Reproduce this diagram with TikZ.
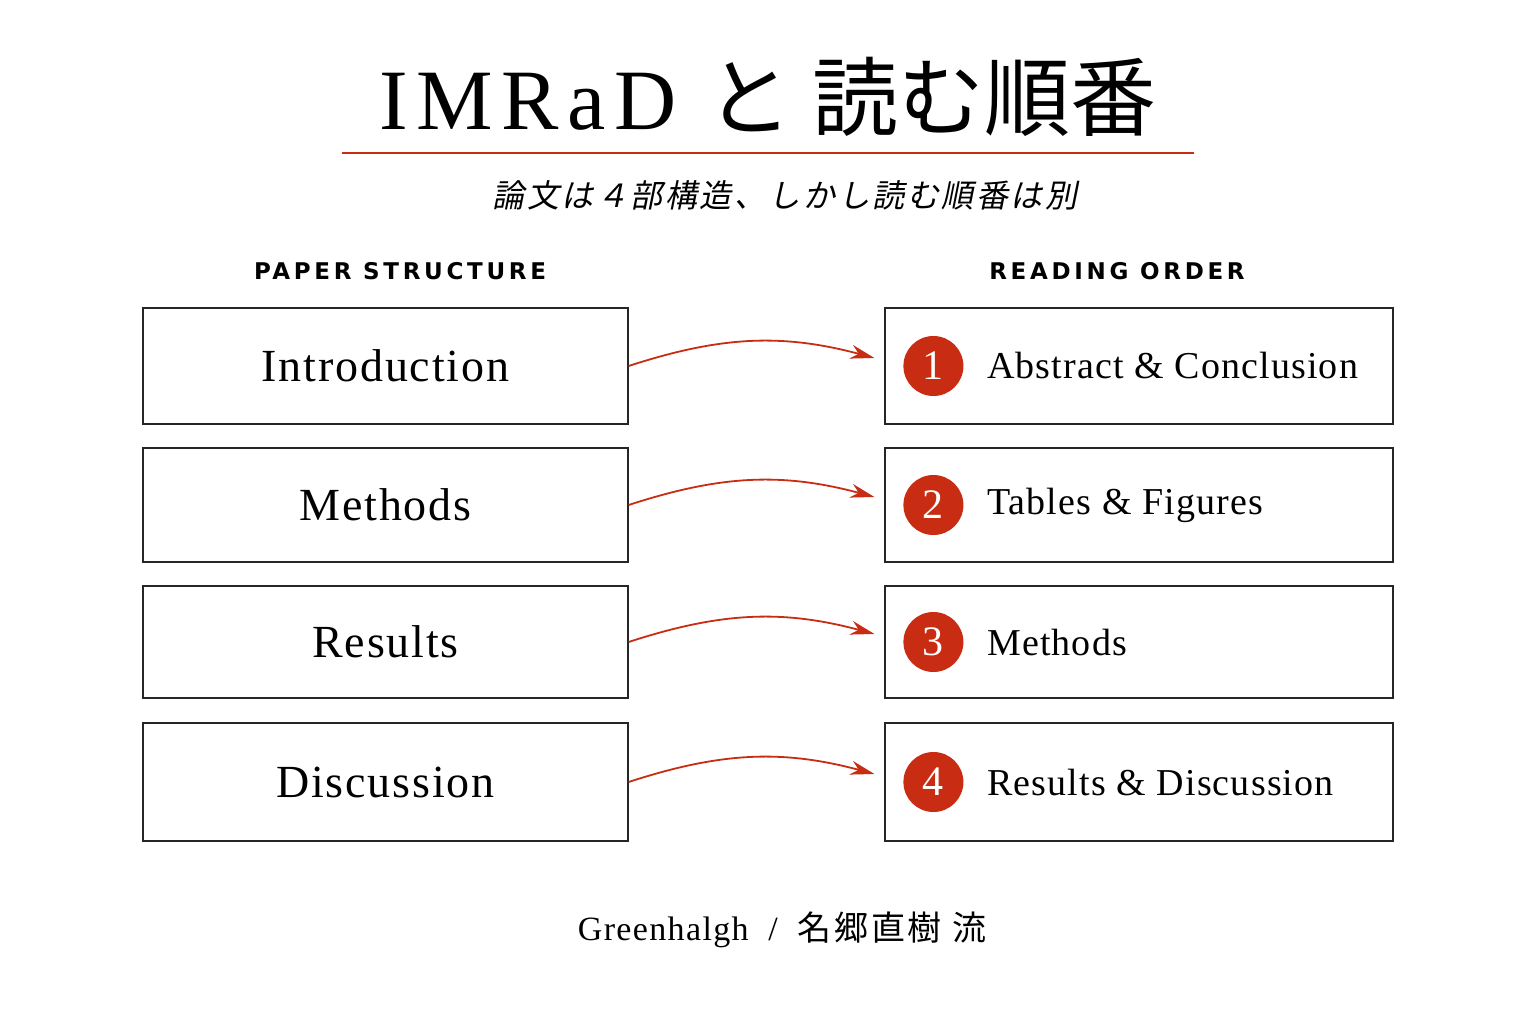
\documentclass[tikz,border=0pt]{standalone}
\usepackage{fontspec}
\setmainfont{Liberation Serif}
\setsansfont{DejaVu Sans}
\newfontfamily\cjk{Noto Sans CJK JP}
\newfontfamily\cjkslant[FakeSlant=0.2]{Noto Sans CJK JP}
\usetikzlibrary{arrows.meta,positioning}

\definecolor{accent}{RGB}{200,45,20}

\begin{document}
\begin{tikzpicture}[x=1pt,y=-1pt]
  \tikzset{
    part/.style={draw=black!85,line width=1.2pt,minimum width=485pt,inner sep=0pt,
                 font=\fontsize{46}{50}\selectfont\addfontfeature{LetterSpace=4}},
    order/.style={draw=black!85,line width=1.2pt,minimum width=508pt,inner sep=0pt},
    badge/.style={circle,fill=accent,text=white,minimum size=60pt,inner sep=0pt,
                  font=\fontsize{42}{44}\selectfont},
    label/.style={font=\fontsize{38}{42}\selectfont\addfontfeature{LetterSpace=3},anchor=west},
    flow/.style={-{Stealth[length=24pt,width=14pt]},draw=accent,line width=1.8pt},
    head/.style={font=\sffamily\bfseries\fontsize{23}{26}\selectfont}
  }
  \useasboundingbox[fill=white] (0,0) rectangle (1536,1024);

  % title
  \node (title) at (768,97) {\fontsize{86}{90}\selectfont\addfontfeature{LetterSpace=10}IMRaD\ {\cjk と 読む順番}};
  \draw[accent,line width=1.2pt] (342,153) -- (1194,153);
  \node (sub) at (785,195) {\cjkslant\fontsize{32}{36}\selectfont\addfontfeature{LetterSpace=8}論文は４部構造、しかし読む順番は別};

  \node[head] (hl) at (400,271) {\addfontfeature{LetterSpace=16}PAPER STRUCTURE};
  \node[head] (hr) at (1117,271) {\addfontfeature{LetterSpace=16}READING ORDER};

  % left column
  \node[part,minimum height=116pt] (l1) at (385.5,366) {Introduction};
  \node[part,minimum height=114pt] (l2) at (385.5,505) {Methods};
  \node[part,minimum height=112pt] (l3) at (385.5,642) {Results};
  \node[part,minimum height=118pt] (l4) at (385.5,782) {Discussion};

  % right column
  \node[order,minimum height=116pt] (r1) at (1139,366) {};
  \node[order,minimum height=114pt] (r2) at (1139,505) {};
  \node[order,minimum height=112pt] (r3) at (1139,642) {};
  \node[order,minimum height=118pt] (r4) at (1139,782) {};

  \foreach \i/\txt in {1/Abstract \& Conclusion,2/Tables \& Figures,3/Methods,4/Results \& Discussion}{
    \node[badge] (b\i) at ([xshift=49pt]r\i.west) {\i};
    \node[label] (t\i) at ([xshift=20pt]b\i.east) {\txt};
    \draw[flow] (l\i.east) to[out=18,in=165] ([xshift=-10pt,yshift=8pt]r\i.west);
  }

  \node (foot) at (782,930) {\fontsize{34}{38}\selectfont\addfontfeature{LetterSpace=4}Greenhalgh\ \ /\ \ {\cjk\addfontfeature{LetterSpace=8}名郷直樹 流}};
\end{tikzpicture}
\end{document}
